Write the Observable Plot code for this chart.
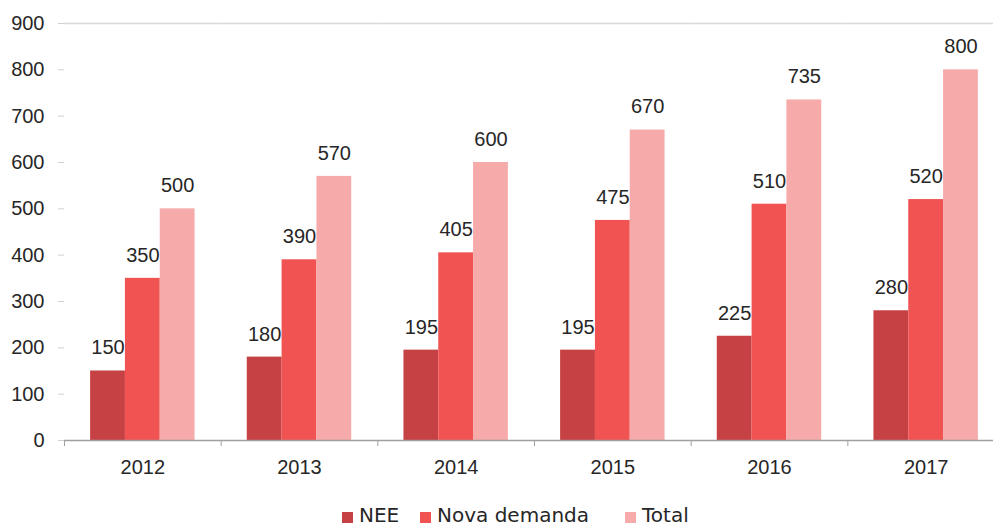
<!DOCTYPE html>
<html><head><meta charset="utf-8">
<script src="https://cdn.jsdelivr.net/npm/d3@7"></script>
<script src="https://cdn.jsdelivr.net/npm/@observablehq/plot@0.6"></script>
<style>
body{margin:0;background:#fff;width:993px;height:526px;overflow:hidden;position:relative;font-family:"Liberation Sans",sans-serif;}
#legend{position:absolute;left:0;top:503px;width:993px;height:24px;font-family:"DejaVu Sans",sans-serif;font-size:20px;color:#262626;line-height:24px;}
#legend .item{position:absolute;top:0;white-space:nowrap;}
#legend .sw{display:inline-block;width:11px;height:11px;margin-right:6px;vertical-align:-1px;}
</style>
</head><body><div id="chart"></div><div id="legend"></div><script>
const years = ["2012","2013","2014","2015","2016","2017"];
const series = ["NEE","Nova demanda","Total"];
const nee = [150,180,195,195,225,280];
const nova = [350,390,405,475,510,520];
const total = [500,570,600,670,735,800];
const colors = ["#C64143","#F15252","#F6AAAA"];
const yTicks = [0,100,200,300,400,500,600,700,800,900];

const values = [nee, nova, total];
const data = years.flatMap((y,i)=>series.map((s,j)=>({year:y, series:s, value:values[j][i]})));
const band = 940/6;

const plot = Plot.plot({
  width: 993, height: 503,
  marginTop: 23, marginBottom: 63, marginLeft: 64, marginRight: 0,
  style: {fontFamily: "Liberation Sans", fontSize: "20px", color: "#262626", background: "#fff", overflow: "visible"},
  fx: {domain: years, range: [64, 1004], padding: 0, round: false, label: null, axis: null},
  x: {domain: series, paddingInner: 0, paddingOuter: 0.75, round: false, axis: null},
  y: {domain: [0, 900], ticks: yTicks, label: null, axis: null},
  color: {domain: series, range: colors},
  marks: [
    Plot.ruleY([900], {stroke: "#d9d9d9", strokeWidth: 1.5}),
    Plot.barY(data, {fx: "year", x: "series", y: "value", fill: "series"}),
    Plot.ruleY([0], {stroke: "#a0a0a0", strokeWidth: 1.5}),
    Plot.axisY({ticks: yTicks, tickSize: 6, tickPadding: 14, stroke: "#d0d0d0", fill: "#262626", line: true, label: null, fontSize: 20}),
    Plot.axisFx({anchor: "bottom", tickSize: 6, dx: -band/2, tickFormat: () => "", stroke: "#a0a0a0", label: null}),
    Plot.axisFx({anchor: "bottom", tickSize: 0, tickPadding: 19, fill: "#262626", label: null, fontSize: 20}),
    Plot.text(data, {fx: "year", x: "series", y: "value", text: d => String(d.value), dy: -23, fill: "#262626", fontSize: 20})
  ]
});
document.getElementById("chart").appendChild(plot);

const legend = document.getElementById("legend");
const legendLeft = [342, 420, 625];
series.forEach((s,i)=>{
  const it = document.createElement("span");
  it.className = "item";
  it.style.left = legendLeft[i] + "px";
  it.innerHTML = `<span class="sw" style="background:${colors[i]}"></span>${s}`;
  legend.appendChild(it);
});
</script></body></html>
